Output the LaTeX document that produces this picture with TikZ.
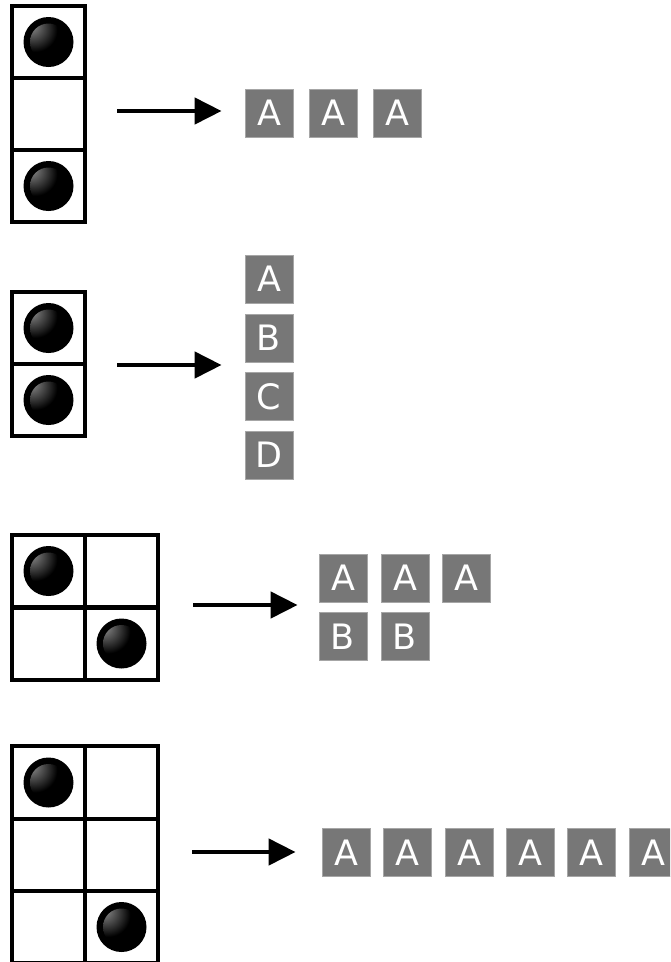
\documentclass[tikz,border=0pt]{standalone}
\usepackage{fontspec}
\setmainfont{DejaVu Sans}
\usetikzlibrary{arrows.meta,shadings}
\definecolor{boxgray}{HTML}{777777}
\pgfdeclareradialshading{softhalo}{\pgfpoint{0bp}{0bp}}{%
  color(0bp)=(black); color(36bp)=(black); color(42bp)=(black!55); color(48bp)=(white); color(50bp)=(white)}
\pgfdeclareradialshading{ballhl}{\pgfpoint{-26bp}{24bp}}{%
  color(0bp)=(black!40); color(12bp)=(black!65); color(30bp)=(black); color(100bp)=(black)}
\tikzset{
  cell/.style={draw=black, line width=4.5pt, minimum width=73pt, minimum height=72pt, inner sep=0pt, fill=white},
  halonode/.style={circle, minimum size=50pt, inner sep=0pt, shading=softhalo},
  ballnode/.style={circle, minimum size=37pt, inner sep=0pt, shading=ballhl},
  lbl/.style={fill=boxgray, draw=black!35, line width=0.8pt, text=white, minimum size=48pt, inner sep=0pt, font=\fontsize{35}{35}\selectfont},
  arr/.style={line width=4.5pt, -{Triangle[length=27pt,width=26pt]}},
}
\begin{document}
\begin{tikzpicture}[x=1pt,y=-1pt]
\useasboundingbox (0,0) rectangle (670,962);
\clip (0,0) rectangle (670,962);
% ---------- row 1
\node[cell] (c11) at (48.5,42) {};
\node[cell] (c12) at (48.5,114) {};
\node[cell] (c13) at (48.5,186) {};
\node[halonode] (h11) at (c11) {};
\node[ballnode] (k11) at (c11) {};
\node[halonode] (h13) at (c13) {};
\node[ballnode] (k13) at (c13) {};
\node[lbl] (a11) at (269,113) {A};
\node[lbl] (a12) at (333,113) {A};
\node[lbl] (a13) at (397,113) {A};
\coordinate (s1) at (85,111);
\draw[arr, shorten <=32pt, shorten >=23pt] (s1) -- (s1 -| a11.west);
% ---------- row 2
\node[cell] (c21) at (48.5,328) {};
\node[cell] (c22) at (48.5,400) {};
\node[halonode] (h21) at (c21) {};
\node[ballnode] (k21) at (c21) {};
\node[halonode] (h22) at (c22) {};
\node[ballnode] (k22) at (c22) {};
\node[lbl] (a21) at (269,279) {A};
\node[lbl] (a22) at (269,338) {B};
\node[lbl] (a23) at (269,396.5) {C};
\node[lbl] (a24) at (269,455) {D};
\coordinate (s2) at (85,365);
\draw[arr, shorten <=32pt, shorten >=23pt] (s2) -- (s2 -| a22.west);
% ---------- row 3
\node[cell, minimum height=72.5pt] (c31) at (48.5,571) {};
\node[cell, minimum height=72.5pt] (c32) at (121.5,571) {};
\node[cell, minimum height=72.5pt] (c33) at (48.5,643.5) {};
\node[cell, minimum height=72.5pt] (c34) at (121.5,643.5) {};
\node[halonode] (h31) at (c31) {};
\node[ballnode] (k31) at (c31) {};
\node[halonode] (h34) at (c34) {};
\node[ballnode] (k34) at (c34) {};
\node[lbl] (a31) at (343,578) {A};
\node[lbl] (a32) at (405,578) {A};
\node[lbl] (a33) at (466,578) {A};
\node[lbl] (a34) at (343,636.5) {B};
\node[lbl] (a35) at (405,636.5) {B};
\coordinate (s3) at (158,605);
\draw[arr, shorten <=35pt, shorten >=21pt] (s3) -- (s3 -| a31.west);
% ---------- row 4
\node[cell, minimum height=73pt] (c41) at (48.5,782.5) {};
\node[cell, minimum height=73pt] (c42) at (121.5,782.5) {};
\node[cell] (c43) at (48.5,855) {};
\node[cell] (c44) at (121.5,855) {};
\node[cell] (c45) at (48.5,927) {};
\node[cell] (c46) at (121.5,927) {};
\node[halonode] (h41) at (c41) {};
\node[ballnode] (k41) at (c41) {};
\node[halonode] (h46) at (c46) {};
\node[ballnode] (k46) at (c46) {};
\node[lbl] (a41) at (346,852.5) {A};
\node[lbl] (a42) at (407.5,852.5) {A};
\node[lbl] (a43) at (469,852.5) {A};
\node[lbl] (a44) at (530,852.5) {A};
\node[lbl] (a45) at (591,852.5) {A};
\node[lbl] (a46) at (653,852.5) {A};
\coordinate (s4) at (158,852);
\draw[arr, shorten <=34pt, shorten >=26pt] (s4) -- (s4 -| a41.west);
\end{tikzpicture}
\end{document}
